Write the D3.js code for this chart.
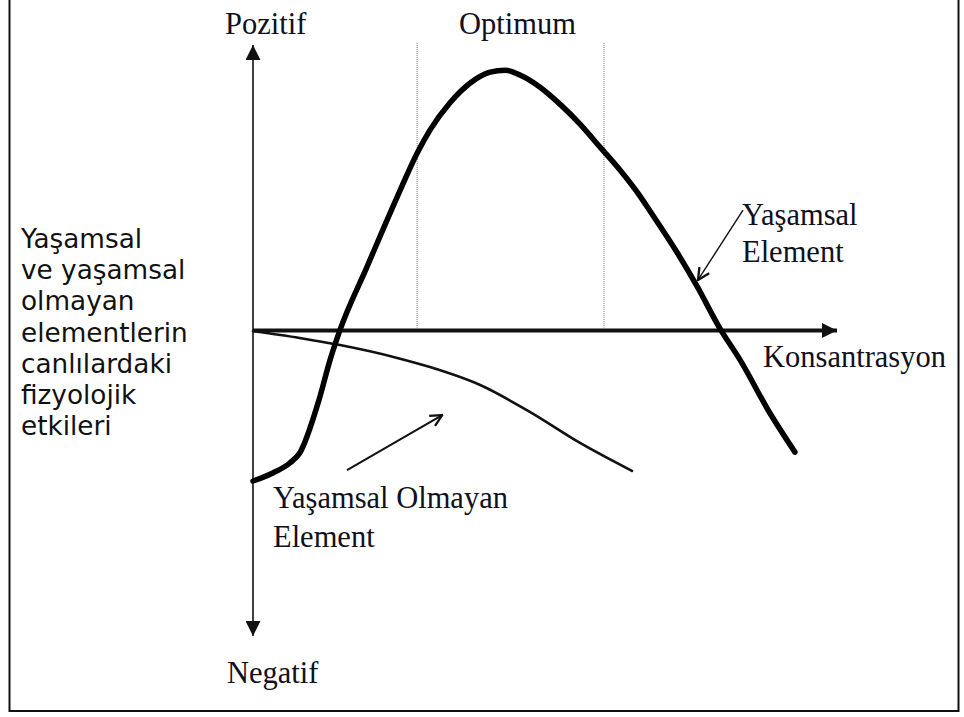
<!DOCTYPE html>
<html>
<head>
<meta charset="utf-8">
<script src="https://cdn.jsdelivr.net/npm/d3@7"></script>
<style>
  html, body { margin: 0; padding: 0; background: #fff; }
  svg { display: block; }
</style>
</head>
<body>
<svg id="chart" width="964" height="717"></svg>
<script>
// ---- Data (concentration 0..100, effect -107..100) ----
const essentialX = [0, 3.4, 6.3, 8.0, 11.3, 13.2, 14.9, 19.5, 24.7, 28.1, 30.3, 33.7, 37.2, 40.6, 43.2, 45.7, 49.1, 52.6, 56.0, 59.4, 62.8, 66.3, 68.0, 72.6, 76.0, 80.1, 83.4, 88.5, 92.8];
const essentialY = [-52.7, -49.9, -46.4, -42.9, -24.3, -10.3, 0.2, 22.2, 46.8, 62.1, 70.2, 79.7, 86.7, 90.5, 91.2, 89.5, 85.3, 79.2, 72.3, 64.3, 56.3, 47.0, 41.8, 27.4, 15.6, 0.2, -10.3, -28.9, -42.6];

const nonEssentialX = [0, 8.0, 14.9, 24.7, 30.3, 38.9, 47.4, 56.0, 64.9];
const nonEssentialY = [-0.2, -2.6, -5.1, -9.6, -12.8, -19.1, -28.5, -39.4, -49.2];

// optimum band boundaries (concentration)
const optimumBounds = [28.1, 60.1];

// axis labels
const yTopLabel = "Pozitif";
const yBottomLabel = "Negatif";
const xLabel = "Konsantrasyon";
const optimumLabel = "Optimum";
const essentialLabel = ["Yaşamsal", "Element"];
const nonEssentialLabel = ["Yaşamsal Olmayan", "Element"];
const sideTitle = ["Yaşamsal", "ve yaşamsal", "olmayan", "elementlerin", "canlılardaki", "fizyolojik", "etkileri"];

// annotation arrows: [fromX, fromY, toX, toY] in data units
const essentialArrow = [83.9, 42.2, 76.2, 17.7];
const nonEssentialArrow = [16.1, -48.9, 32.4, -29.6];

// ---- Drawing ----
const svg = d3.select("#chart");
const x = d3.scaleLinear().domain([0, 100]).range([253, 837]);
const y = d3.scaleLinear().domain([-107, 100]).range([636, 45]);

// outer frame
svg.append("rect")
  .attr("x", 9.5).attr("y", -1)
  .attr("width", 949).attr("height", 712)
  .attr("fill", "none").attr("stroke", "#111").attr("stroke-width", 2);

// arrow markers
const defs = svg.append("defs");
defs.append("marker")
  .attr("id", "tri").attr("viewBox", "0 0 10 10")
  .attr("refX", 10).attr("refY", 5)
  .attr("markerUnits", "userSpaceOnUse")
  .attr("markerWidth", 16).attr("markerHeight", 15)
  .attr("orient", "auto")
  .append("path").attr("d", "M0,0 L10,5 L0,10 Z").attr("fill", "#111");
defs.append("marker")
  .attr("id", "open").attr("viewBox", "0 0 12 12")
  .attr("refX", 11).attr("refY", 6)
  .attr("markerUnits", "userSpaceOnUse")
  .attr("markerWidth", 14).attr("markerHeight", 14)
  .attr("orient", "auto")
  .append("path").attr("d", "M1,1 L11,6 L1,11")
  .attr("fill", "none").attr("stroke", "#111").attr("stroke-width", 2);

// dotted optimum lines
svg.selectAll(".opt").data(optimumBounds).enter().append("line")
  .attr("x1", d => x(d)).attr("x2", d => x(d))
  .attr("y1", 43).attr("y2", y(0) - 3)
  .attr("stroke", "#8a8a8a").attr("stroke-width", 1.2)
  .attr("stroke-dasharray", "1,1");

// vertical axis (both directions)
const xAxisY = y(0);
svg.append("line")
  .attr("x1", x(0)).attr("x2", x(0))
  .attr("y1", xAxisY).attr("y2", y(100))
  .attr("stroke", "#111").attr("stroke-width", 1.6)
  .attr("marker-end", "url(#tri)");
svg.append("line")
  .attr("x1", x(0)).attr("x2", x(0))
  .attr("y1", xAxisY).attr("y2", y(-107))
  .attr("stroke", "#111").attr("stroke-width", 1.6)
  .attr("marker-end", "url(#tri)");

// horizontal axis
svg.append("line")
  .attr("x1", x(0)).attr("x2", x(100))
  .attr("y1", xAxisY).attr("y2", xAxisY)
  .attr("stroke", "#111").attr("stroke-width", 4)
  .attr("marker-end", "url(#tri)");

// curves
const line = d3.line().x(d => x(d[0])).y(d => y(d[1])).curve(d3.curveMonotoneX);
const essential = essentialX.map((v, i) => [v, essentialY[i]]);
const nonEssential = nonEssentialX.map((v, i) => [v, nonEssentialY[i]]);

svg.append("path").datum(nonEssential)
  .attr("d", line).attr("fill", "none")
  .attr("stroke", "#111").attr("stroke-width", 2.6)
  .attr("stroke-linecap", "round");

svg.append("path").datum(essential)
  .attr("d", line).attr("fill", "none")
  .attr("stroke", "#000").attr("stroke-width", 5.5)
  .attr("stroke-linecap", "round").attr("stroke-linejoin", "round");

// annotation arrows
[[essentialArrow, 1.4], [nonEssentialArrow, 2]].forEach(([a, w]) => {
  svg.append("line")
    .attr("x1", x(a[0])).attr("y1", y(a[1]))
    .attr("x2", x(a[2])).attr("y2", y(a[3]))
    .attr("stroke", "#111").attr("stroke-width", w)
    .attr("marker-end", "url(#open)");
});

// texts
const serif = "'Liberation Serif', 'Times New Roman', serif";
const txtColor = "#101020";
function serifText(str, tx, ty) {
  svg.append("text").attr("x", tx).attr("y", ty)
    .attr("font-family", serif).attr("font-size", 30.5)
    .attr("fill", txtColor).text(str);
}
serifText(yTopLabel, 225, 34);
serifText(optimumLabel, 459, 34);
serifText(xLabel, 763, 367);
serifText(yBottomLabel, 227, 683);
serifText(essentialLabel[0], 742, 225);
serifText(essentialLabel[1], 742, 262);
serifText(nonEssentialLabel[0], 273, 508);
serifText(nonEssentialLabel[1], 273, 547);

const side = svg.append("text")
  .attr("font-family", "'DejaVu Sans', Verdana, sans-serif")
  .attr("font-size", 26.3).attr("fill", "#111");
sideTitle.forEach((s, i) => {
  side.append("tspan").attr("x", 21).attr("y", 248 + i * 31.2).text(s);
});
</script>
</body>
</html>
